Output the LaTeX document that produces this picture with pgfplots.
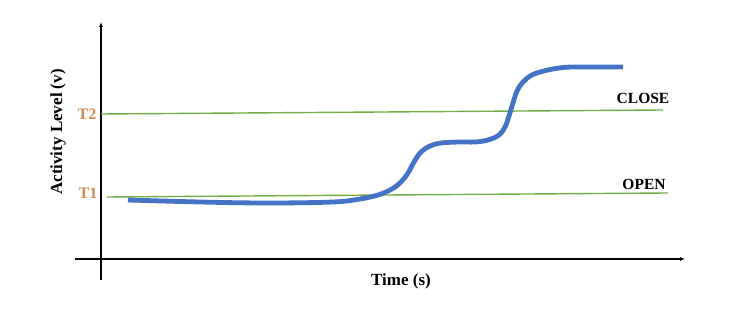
\documentclass[border=0pt]{standalone}
\usepackage{pgfplots}
\pgfplotsset{compat=1.18}
\usepackage{fontspec}
\setmainfont{Liberation Serif}
\usetikzlibrary{arrows.meta}
\definecolor{curveblue}{HTML}{4472C4}
\definecolor{thgreen}{HTML}{70AD47}
\definecolor{thorange}{HTML}{D4884C}
\begin{document}
\begin{tikzpicture}
\path[use as bounding box] (0,0) rectangle (742pt,318pt);
\begin{axis}[
  at={(101pt,59pt)}, anchor=origin,
  x=1pt, y=1pt,
  axis lines=middle,
  xmin=-26, xmax=584, ymin=-21, ymax=237,
  ticks=none,
  clip=false,
  axis line style={line width=1.3pt, -{Latex[length=5pt,width=4pt]}},
]
\addplot[thgreen, line width=1.4pt] coordinates {(0,145) (562,149)};
\addplot[thgreen, line width=1.4pt] coordinates {(6,62) (567,66)};
\addplot[curveblue, line width=4.8pt, smooth, tension=0.6] coordinates {
(27,59) (99,57) (166,56) (232,57) (259,60) (277,64) (291,70) (300,77)
(307,86) (313,97) (320,107) (329,113) (340,116) (359,117) (374,117)
(387,119) (398,124) (404,132) (408,143) (412,156) (416,168) (422,177)
(431,184) (443,188) (458,191) (474,192) (522,192)};
\node[font=\fontsize{17}{20}\selectfont\bfseries] at (axis cs:300,-22) {Time (s)};
\node[font=\fontsize{17}{20}\selectfont\bfseries, rotate=90] at (axis cs:-43,127) {Activity Level (v)};
\node[font=\fontsize{16}{19}\selectfont\bfseries, text=thorange] at (axis cs:-14,145) {T2};
\node[font=\fontsize{16}{19}\selectfont\bfseries, text=thorange] at (axis cs:-13,66) {T1};
\node[font=\fontsize{15.5}{18}\selectfont\bfseries] at (axis cs:542,161) {CLOSE};
\node[font=\fontsize{15.5}{18}\selectfont\bfseries] at (axis cs:543,75) {OPEN};
\end{axis}
\end{tikzpicture}
\end{document}
